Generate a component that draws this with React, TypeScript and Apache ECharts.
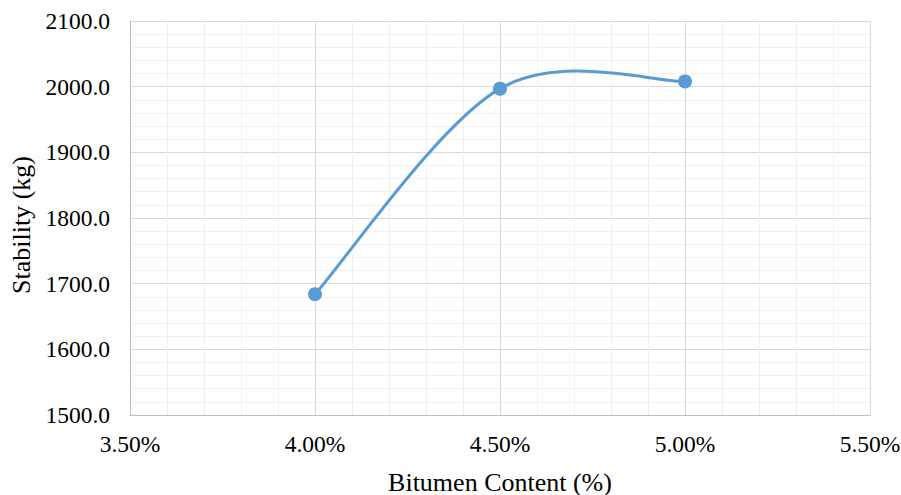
import React, { useEffect, useRef } from "react";
import * as echarts from "echarts";

// Bitumen content (%) and Marshall stability (kg)
const bitumenContent = [4.0, 4.5, 5.0];
const stability = [1684, 1997, 2008];

const FONT = "Liberation Serif";
const BLUE = "#5b9bd5";
const TICK_SIZE = 23.5;
const TITLE_SIZE = 26;

export default function App() {
  const ref = useRef<HTMLDivElement>(null);

  useEffect(() => {
    document.body.style.margin = "0";
    const chart = echarts.init(ref.current!, null, { renderer: "svg" });
    const points = bitumenContent.map((x, i) => [x, stability[i]]);

    // Smoothed curve: cubic Bezier segments with control points taken from the
    // neighbouring points (Catmull-Rom style, tension 1/6).
    const renderSegment = (params: any, api: any) => {
      const i = params.dataIndex;
      const n = points.length;
      if (i >= n - 1) return null;
      const c = points.map((p) => api.coord(p));
      const p0 = c[Math.max(i - 1, 0)];
      const p1 = c[i];
      const p2 = c[i + 1];
      const p3 = c[Math.min(i + 2, n - 1)];
      return {
        type: "bezierCurve",
        shape: {
          x1: p1[0],
          y1: p1[1],
          cpx1: p1[0] + (p2[0] - p0[0]) / 6,
          cpy1: p1[1] + (p2[1] - p0[1]) / 6,
          cpx2: p2[0] - (p3[0] - p1[0]) / 6,
          cpy2: p2[1] - (p3[1] - p1[1]) / 6,
          x2: p2[0],
          y2: p2[1],
        },
        style: { stroke: BLUE, lineWidth: 3, fill: null, lineCap: "round" },
      };
    };

    chart.setOption({
      animation: false,
      backgroundColor: "#ffffff",
      grid: {
        left: 130,
        right: 31,
        top: 21,
        bottom: 80,
        containLabel: false,
        outerBoundsMode: "none",
      },
      xAxis: {
        type: "value",
        min: 3.5,
        max: 5.5,
        interval: 0.5,
        name: "Bitumen Content (%)",
        nameLocation: "middle",
        nameGap: 54,
        nameTextStyle: { fontFamily: FONT, fontSize: TITLE_SIZE, color: "#000" },
        axisLine: { show: true, lineStyle: { color: "#bfbfbf", width: 1 } },
        axisTick: { show: false },
        axisLabel: {
          fontFamily: FONT,
          fontSize: TICK_SIZE,
          color: "#000",
          margin: 17,
          formatter: (v: number) => v.toFixed(2) + "%",
        },
        splitLine: { show: true, lineStyle: { color: "#d9d9d9", width: 1 } },
        minorTick: { show: false, splitNumber: 5 },
        minorSplitLine: { show: true, lineStyle: { color: "#f0f0f0", width: 1 } },
      },
      yAxis: {
        type: "value",
        min: 1500,
        max: 2100,
        interval: 100,
        name: "Stability (kg)",
        nameLocation: "middle",
        nameGap: 93,
        nameTextStyle: {
          fontFamily: FONT,
          fontSize: TITLE_SIZE,
          color: "#000",
          padding: [0, 14, 0, 0],
        },
        axisLine: { show: true, lineStyle: { color: "#bfbfbf", width: 1 } },
        axisTick: { show: false },
        axisLabel: {
          fontFamily: FONT,
          fontSize: TICK_SIZE,
          color: "#000",
          margin: 20,
          formatter: (v: number) => v.toFixed(1),
        },
        splitLine: { show: true, lineStyle: { color: "#d9d9d9", width: 1 } },
        minorTick: { show: false, splitNumber: 5 },
        minorSplitLine: { show: true, lineStyle: { color: "#f0f0f0", width: 1 } },
      },
      series: [
        {
          type: "custom",
          renderItem: renderSegment,
          data: points,
          encode: { x: 0, y: 1 },
          z: 2,
        },
        {
          type: "scatter",
          data: points,
          symbol: "circle",
          symbolSize: 14,
          itemStyle: { color: BLUE, opacity: 1 },
          z: 3,
        },
      ],
    });
    return () => chart.dispose();
  }, []);

  return <div ref={ref} style={{ width: 901, height: 495 }} />;
}
